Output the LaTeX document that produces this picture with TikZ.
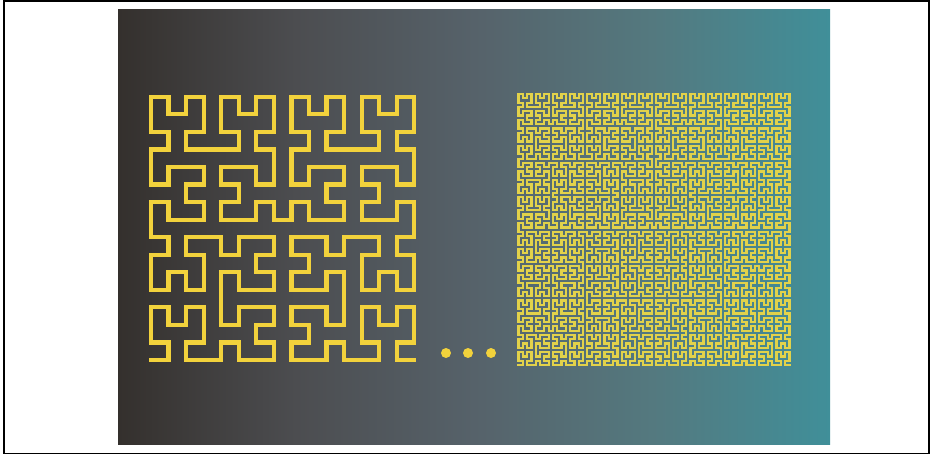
\documentclass[tikz,border=0pt]{standalone}
\usepackage{xcolor}
\usepackage{tikz}
\usetikzlibrary{lindenmayersystems}
\definecolor{curveyellow}{RGB}{242,210,60}
\definecolor{fineyellow}{RGB}{226,210,74}
\definecolor{panelA}{RGB}{52,48,45}
\definecolor{panelB}{RGB}{76,77,80}
\definecolor{panelC}{RGB}{86,98,106}
\definecolor{panelD}{RGB}{84,121,127}
\definecolor{panelE}{RGB}{64,143,153}
\pgfdeclarehorizontalshading{panelfade}{100bp}{color(0bp)=(panelA); color(25bp)=(panelA);
  color(37.5bp)=(panelB); color(50bp)=(panelC); color(62.5bp)=(panelD);
  color(75bp)=(panelE); color(100bp)=(panelE)}
\pgfdeclarelindenmayersystem{Hilbert curve}{
  \rule{L -> +RF-LFL-FR+}
  \rule{R -> -LF+RFR+FL-}
}

\begin{document}
\begin{tikzpicture}[x=1pt,y=1pt]
  \useasboundingbox (0,0) rectangle (933,456);
  % outer frame
  \draw[line width=1.6pt] (4,2.5) rectangle (929,455);
  % dark-to-teal panel
  \shade[shading=panelfade] (118,12) rectangle (830,446);
  % order 4 curve
  \begin{scope}[shift={(151,96)}]
    \draw[curveyellow,line width=4.2pt,line cap=rect,
      lindenmayer system={Hilbert curve, axiom=L, order=4, step=17.55pt, angle=90}]
      lindenmayer system;
  \end{scope}
  % dots
  \foreach \x in {446,468,491}
    \fill[curveyellow] (\x,103) circle (5);
  % order 6 curve
  \begin{scope}[shift={(518.5,91)}]
    \draw[fineyellow,line width=2.2pt,line cap=rect,
      lindenmayer system={Hilbert curve, axiom=L, order=6, step=4.3pt, angle=90}]
      lindenmayer system;
  \end{scope}
\end{tikzpicture}
\end{document}
